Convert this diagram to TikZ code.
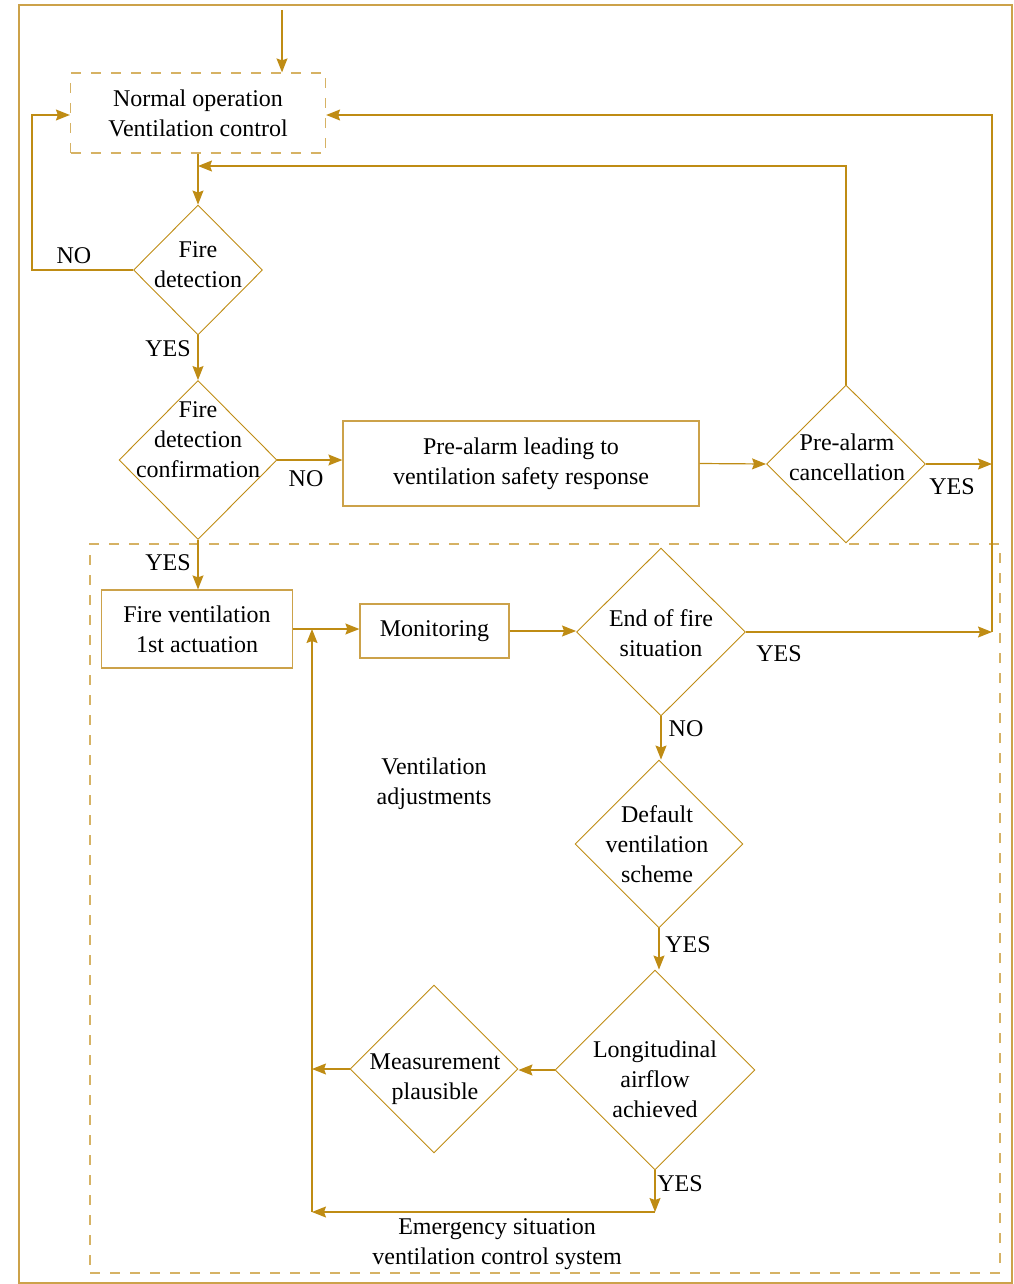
\documentclass[tikz,border=0pt]{standalone}
\usepackage{fontspec}
\setmainfont{Liberation Serif}
\usetikzlibrary{shapes.geometric,arrows.meta}
\definecolor{gline}{RGB}{191,140,20}
\definecolor{gbox}{RGB}{204,162,74}
\definecolor{gdash}{RGB}{214,178,100}
\begin{document}
\begin{tikzpicture}[x=0.5pt,y=-0.5pt,
  every node/.style={font=\fontsize{12}{15}\selectfont, text=black},
  arr/.style={draw=gline, line width=0.6pt, -{Stealth[length=7pt,width=5.5pt,inset=1pt]}},
  ln/.style={draw=gline, line width=0.6pt},
  boxn/.style={draw=gbox, line width=0.6pt, rectangle, inner sep=0pt, align=center},
  dboxn/.style={draw=gdash, line width=0.6pt, dash pattern=on 5pt off 5pt, rectangle, inner sep=0pt, align=center},
  dia/.style={draw=gline, line width=0.45pt, diamond, inner sep=0pt},
  txt/.style={align=center, inner sep=0pt},
  lab/.style={inner sep=0pt}]
\useasboundingbox (0,0) rectangle (1013,1284);
% outer frame
\node[draw=gbox, line width=0.8pt, rectangle, minimum width=496.5pt, minimum height=639pt, inner sep=0pt] (frame) at (515.5,644) {};
% big dashed container
\node[dboxn, minimum width=455pt, minimum height=364.5pt] (ems) at (545,908.5) {};
% boxes
\node[dboxn, minimum width=127.5pt, minimum height=40pt] (nov) at (198,113) {Normal operation\\Ventilation control};
\node[boxn, minimum width=178pt, minimum height=42.5pt] (pre) at (521,463.5) {Pre-alarm leading to\\ventilation safety response};
\node[boxn, minimum width=95.5pt, minimum height=39pt] (fva) at (197,629) {Fire ventilation\\1st actuation};
\node[boxn, minimum width=74.5pt, minimum height=27pt] (mon) at (434.5,631) {Monitoring};
% diamonds
\node[dia, minimum width=64.5pt, minimum height=65pt] (fd) at (198,270) {};
\node[txt] (fdt) at (198,265) {Fire\\detection};
\node[dia, minimum width=79pt, minimum height=79.5pt] (fdc) at (198,460) {};
\node[txt] (fdct) at (198,440) {Fire\\detection\\confirmation};
\node[dia, minimum width=79.5pt, minimum height=79pt] (pac) at (846,464) {};
\node[txt] (pact) at (847,457) {Pre-alarm\\cancellation};
\node[dia, minimum width=84.5pt, minimum height=84pt] (eof) at (661,632) {};
\node[txt] (eoft) at (661,633) {End of fire\\situation};
\node[dia, minimum width=84pt, minimum height=84pt] (dvs) at (659,844) {};
\node[txt] (dvst) at (657,844) {Default\\ventilation\\scheme};
\node[dia, minimum width=100pt, minimum height=100pt] (laa) at (655,1070) {};
\node[txt] (laat) at (655,1079) {Longitudinal\\airflow\\achieved};
\node[dia, minimum width=84pt, minimum height=84pt] (mp) at (434,1069) {};
\node[txt] (mpt) at (435,1079) {Measurement\\plausible};
% free texts
\node[txt] (vadj) at (434,784) {Ventilation\\adjustments};
\node[txt] (emst) at (497,1244) {Emergency situation\\ventilation control system};
% coordinates
\coordinate (top) at (282,10);
\coordinate (j1) at (198,166);
\coordinate (rbot) at (992,632);
\coordinate (lb) at (312,1212);
% connectors
\draw[arr] (top) -- (top |- nov.north);
\draw[arr] (nov.south) -- (fd.north);
\draw[arr] (fd.west) -- ++(-101,0) |- ([yshift=-1pt]nov.west);
\draw[arr] (fd.south) -- (fdc.north);
\draw[arr] (fdc.east) -- (fdc.east -| pre.west);
\draw[arr] (pre.east) -- (pac.west);
\draw[arr] (pac.north) |- (j1);
\draw[arr] (pac.east) -- (pac.east -| rbot);
\draw[arr] (rbot) |- ([yshift=-1pt]nov.east);
\draw[arr] (fdc.south) -- (fdc.south |- fva.north);
\draw[arr] (fva.east) -- (fva.east -| mon.west);
\draw[arr] (mon.east) -- (mon.east -| eof.west);
\draw[arr] (eof.east) -- (rbot);
\draw[arr] (eof.south) -- (eof.south |- dvs.north);
\draw[arr] (dvs.south) -- (dvs.south |- laa.north);
\draw[arr] (laa.west) -- (laa.west -| mp.east);
\draw[arr] (mp.west) -- (mp.west -| lb);
\draw[arr] (laa.south) -- (laa.south |- lb);
\draw[arr] (laa.south |- lb) -- (lb);
\draw[arr] (lb) -- (lb |- fva.east);
% labels
\node[lab] (l1) at (74,256) {NO};
\node[lab] (l2) at (168,349) {YES};
\node[lab] (l3) at (306,479) {NO};
\node[lab] (l4) at (952,487) {YES};
\node[lab] (l5) at (168,563) {YES};
\node[lab] (l6) at (779,654) {YES};
\node[lab] (l7) at (686,729) {NO};
\node[lab] (l8) at (688,945) {YES};
\node[lab] (l9) at (680,1184) {YES};
\end{tikzpicture}
\end{document}
